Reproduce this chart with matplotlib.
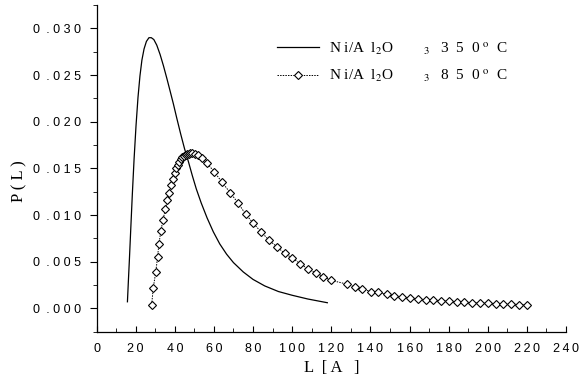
import matplotlib.pyplot as plt
from matplotlib.ticker import MultipleLocator

plt.rcParams['mathtext.fontset'] = 'stix'

# Ni/Al2O3 350 C (courbe continue)
L_350 = [15.8, 16.3, 16.8, 17.5, 18.3, 19.2, 20.2, 21.2, 22.2, 23.2, 24.3, 25.5,
         26.8, 28.0, 29.3, 30.8, 32.5, 34.2, 36.0, 37.6, 39.3, 41.0, 43.0, 45.0,
         47.0, 49.0, 51.0, 53.5, 56.5, 59.7, 63.0, 66.5, 70.0, 75.0, 80.0, 86.0,
         93.0, 100.0, 108.0, 118.0]
P_350 = [0.0007, 0.0030, 0.0052, 0.0085, 0.0122, 0.0160, 0.0196, 0.0226, 0.0249,
         0.0266, 0.0278, 0.0286, 0.0290, 0.0290, 0.0288, 0.0282, 0.0272, 0.0260,
         0.0246, 0.0233, 0.0219, 0.0204, 0.0187, 0.0171, 0.0157, 0.0142, 0.0128,
         0.0113, 0.0097, 0.0082, 0.0069, 0.0058, 0.0049, 0.0039, 0.0031, 0.0024,
         0.0018, 0.0014, 0.0010, 0.0006]

# Ni/Al2O3 850 C (points)
L_850 = [28.2, 29.0, 30.3, 31.2, 31.9, 32.9, 34.0, 35.2, 36.2, 37.1, 38.0, 39.0,
         39.9, 40.7, 41.5, 42.3, 43.1, 43.9, 44.7, 45.5, 46.3, 47.1, 47.9, 48.8,
         50.2, 51.8, 53.8, 56.3, 60.1, 64.2, 68.3, 72.3, 76.2, 80.2, 84.1, 88.2,
         92.2, 96.1, 100.0, 104.0, 108.2, 112.0, 116.0, 119.9, 127.9, 131.9,
         135.9, 140.1, 144.1, 148.3, 152.2, 156.2, 160.2, 164.2, 168.2, 172.2,
         176.1, 180.0, 184.1, 188.0, 192.1, 196.0, 200.0, 204.1, 208.0, 212.0,
         216.1, 220.1]
P_850 = [0.0004, 0.0022, 0.0039, 0.0055, 0.0069, 0.0083, 0.0095, 0.0106, 0.0116,
         0.0124, 0.0132, 0.0139, 0.0145, 0.0150, 0.0154, 0.0157, 0.0160, 0.0162,
         0.0163, 0.0164, 0.0165, 0.0165, 0.0166, 0.0166, 0.0165, 0.0164, 0.0161,
         0.0156, 0.01465, 0.0135, 0.0124, 0.0113, 0.0101, 0.0091, 0.0082, 0.0073,
         0.0066, 0.0059, 0.0054, 0.0048, 0.0042, 0.0038, 0.0034, 0.0030, 0.0026,
         0.0023, 0.0021, 0.0018, 0.0017, 0.0015, 0.0013, 0.0012, 0.0011, 0.0010,
         0.0009, 0.00085, 0.0008, 0.00075, 0.0007, 0.00066, 0.0006, 0.00057,
         0.00054, 0.0005, 0.00047, 0.00044, 0.00041, 0.00038]

x_ticks = list(range(0, 241, 20))
y_ticks = [0.000, 0.005, 0.010, 0.015, 0.020, 0.025, 0.030]


def legende(temp):
    # texte espacé comme dans l'original
    return (r'N i/A  l$_2$O' + ' ' * 8 + r'$_3$' + '   '
            + '  '.join(temp) + r' $^{\rm o}$  C')


def etiquette_y(v):
    s = '%.3f' % v
    return s[0] + '\u2002. ' + ' '.join(s[2:])


fig = plt.figure(figsize=(5.85, 3.87), dpi=100)
ax = fig.add_axes([0.165, 0.143, 0.8025, 0.844])

ax.plot(L_350, P_350, c='black', lw=0.9, label=legende('350'))
ax.plot(L_850, P_850, c='black', lw=0.7, ls=(0, (1.5, 1.2)), marker='D',
        ms=4.2, mfc='white', mec='black', mew=0.8, label=legende('850'))

ax.set_xlim(0, 240)
ax.set_ylim(-0.0025, 0.0325)
ax.set_xticks(x_ticks)
ax.set_xticklabels(['\u2009'.join(str(v)) for v in x_ticks])
ax.set_yticks(y_ticks)
ax.set_yticklabels([etiquette_y(v) for v in y_ticks])
ax.xaxis.set_minor_locator(MultipleLocator(10))
ax.yaxis.set_minor_locator(MultipleLocator(0.0025))

ax.spines['top'].set_visible(False)
ax.spines['right'].set_visible(False)
for s in ('left', 'bottom'):
    ax.spines[s].set_linewidth(0.9)

ax.tick_params(axis='x', which='both', direction='in', labelsize=9, pad=8)
ax.tick_params(axis='x', which='major', length=4)
ax.tick_params(axis='x', which='minor', length=3)
ax.tick_params(axis='y', which='both', direction='out', labelsize=9, pad=6)
ax.tick_params(axis='y', which='major', length=5)
ax.tick_params(axis='y', which='minor', length=3)
for lab in ax.get_xticklabels() + ax.get_yticklabels():
    lab.set_family(['Liberation Sans', 'DejaVu Sans'])

ax.set_xlabel('L  [ A   ]', family='Liberation Serif', fontsize=12, labelpad=4)
ax.set_ylabel('P ( L )', family='Liberation Serif', fontsize=12)
ax.yaxis.set_label_coords(-0.147, 0.46)

ax.legend(loc='upper left', bbox_to_anchor=(277 / 585, 1 - 40 / 387),
          bbox_transform=fig.transFigure, frameon=False,
          borderpad=0, borderaxespad=0,
          prop={'family': 'Liberation Serif', 'size': 11},
          handlelength=2.75, handletextpad=0.65, labelspacing=0.7)

plt.savefig('out.png', dpi=100)
